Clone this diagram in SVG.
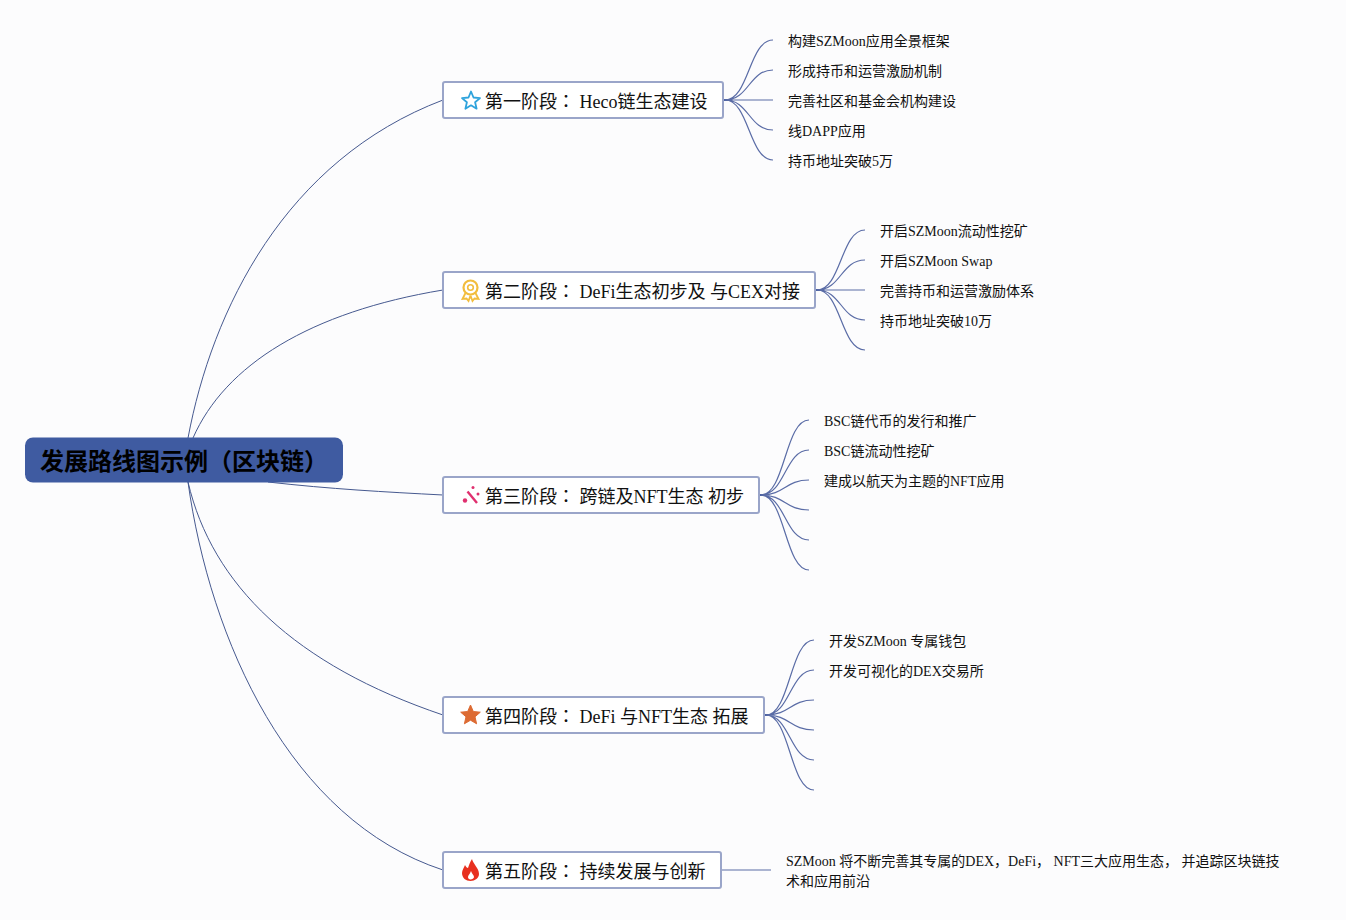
<svg xmlns="http://www.w3.org/2000/svg" width="1346" height="920" viewBox="0 0 1346 920">
<style>
text{font-family:"Liberation Serif","Noto Sans CJK JP",serif;fill:#111}
.leaf{font-size:14px}
.stage{font-size:18px}
.box{fill:#fff;stroke:#9aa5c9;stroke-width:2}
.main{fill:none;stroke:#46598f;stroke-width:1}
.sub{fill:none;stroke:#5a6ca6;stroke-width:1.200}
.stub{fill:none;stroke:#4b62a3;stroke-width:2}
</style>
<rect width="1346" height="920" fill="#fcfcfd"/>
<g id="connectors">
<path class="main" d="M188 438C212 310 285 160 443 100"/>
<path class="main" d="M193 438C225 365 310 312 443 290"/>
<path class="main" d="M268 482C330 489 385 492 443 495"/>
<path class="main" d="M188 482C212 585 295 665 443 715"/>
<path class="main" d="M188 482C210 640 290 820 443 870"/>
<path class="stub" d="M723 100H729"/><path class="stub" d="M815 290H821"/><path class="stub" d="M759 495H765"/><path class="stub" d="M764 715H770"/>
<path class="sub" d="M725 100C749 100 749 40 773 40M725 100C749 100 749 70 773 70M725 100H773M725 100C749 100 749 130 773 130M725 100C749 100 749 160 773 160"/>
<path class="sub" d="M817 290C841 290 841 230 865 230M817 290C841 290 841 260 865 260M817 290H865M817 290C841 290 841 320 865 320M817 290C841 290 841 350 865 350"/>
<path class="sub" d="M761 495C785 495 785 420 809 420M761 495C785 495 785 450 809 450M761 495C785 495 785 480 809 480M761 495C785 495 785 510 809 510M761 495C785 495 785 540 809 540M761 495C785 495 785 570 809 570"/>
<path class="sub" d="M766 715C790 715 790 640 814 640M766 715C790 715 790 670 814 670M766 715C790 715 790 700 814 700M766 715C790 715 790 730 814 730M766 715C790 715 790 760 814 760M766 715C790 715 790 790 814 790"/>
<path class="sub" d="M721 870H771" stroke-width="1.500"/>
</g>
<g id="root">
<rect x="25" y="437.500" width="318" height="45" rx="8" fill="#3f5ba1"/>
<text x="40" y="470" style="font-size:24px;font-weight:bold;fill:#000;font-family:'Liberation Sans','Noto Sans CJK JP',sans-serif">发展路线图示例（区块链）</text>
</g>
<g id="stage1">
<rect class="box" x="443" y="82" width="280" height="36" rx="2"/>
<path d="M471 91.500L473.500 97.500L480 98.100L475.100 102.300L476.600 108.700L471 105.300L465.400 108.700L466.900 102.300L462 98.100L468.500 97.500Z" fill="none" stroke="#2ea3dc" stroke-width="1.800" stroke-linejoin="round"/>
<text class="stage" x="485" y="108">第一阶段： Heco链生态建设</text>
</g>
<g id="stage2">
<rect class="box" x="443" y="272" width="372" height="36" rx="2"/>
<circle cx="470.500" cy="287.500" r="7" fill="none" stroke="#f2bd3d" stroke-width="2.200"/><circle cx="470.500" cy="287.500" r="2.800" fill="none" stroke="#f2bd3d" stroke-width="1.600"/>
<path d="M465.500 293L462.500 299L466.500 298.500L468.500 301L470.500 295.500M475.500 293L478.500 299L474.500 298.500L472.500 301L470.500 295.500" fill="none" stroke="#f2bd3d" stroke-width="1.800"/>
<text class="stage" x="485" y="298">第二阶段： DeFi生态初步及 与CEX对接</text>
</g>
<g id="stage3">
<rect class="box" x="443" y="477" width="316" height="36" rx="2"/>
<path d="M467.500 491.500L477 503" stroke="#e0306f" stroke-width="2.400"/><circle cx="473" cy="487.500" r="1.500" fill="#e0306f"/><circle cx="478" cy="494" r="1.500" fill="#e0306f"/><circle cx="465" cy="500.500" r="2.200" fill="#e0306f"/>
<text class="stage" x="485" y="503">第三阶段： 跨链及NFT生态 初步</text>
</g>
<g id="stage4">
<rect class="box" x="443" y="697" width="321" height="36" rx="2"/>
<path d="M470.500 705L473.300 711.500L480.300 712.200L475 716.800L476.600 723.800L470.500 720.200L464.400 723.800L466 716.800L460.700 712.200L467.700 711.500Z" fill="#dd6b33" stroke="#dd6b33" stroke-linejoin="round"/>
<text class="stage" x="485" y="723">第四阶段： DeFi 与NFT生态 拓展</text>
</g>
<g id="stage5">
<rect class="box" x="443" y="852" width="278" height="36" rx="2"/>
<path fill-rule="evenodd" d="M472 859C473 864 479 868 479 874C479 878 475 881 470.500 881C466 881 462 878 462 873C462 870 464 868 465 865C466 867 467 868 468 868C469 865 470 862 472 859ZM471 871C470 874 468 875 468 877C468 878.500 469 879.500 470.500 879.500C472 879.500 474 878.500 474 877C474 875 472 874 471 871Z" fill="#e8301f"/>
<text class="stage" x="485" y="878">第五阶段： 持续发展与创新</text>
</g>
<g id="leaves1">
<text class="leaf" x="788" y="46">构建SZMoon应用全景框架</text>
<text class="leaf" x="788" y="76">形成持币和运营激励机制</text>
<text class="leaf" x="788" y="106">完善社区和基金会机构建设</text>
<text class="leaf" x="788" y="136">线DAPP应用</text>
<text class="leaf" x="788" y="166">持币地址突破5万</text>
</g>
<g id="leaves2">
<text class="leaf" x="880" y="236">开启SZMoon流动性挖矿</text>
<text class="leaf" x="880" y="266">开启SZMoon Swap</text>
<text class="leaf" x="880" y="296">完善持币和运营激励体系</text>
<text class="leaf" x="880" y="326">持币地址突破10万</text>
</g>
<g id="leaves3">
<text class="leaf" x="824" y="426">BSC链代币的发行和推广</text>
<text class="leaf" x="824" y="456">BSC链流动性挖矿</text>
<text class="leaf" x="824" y="486">建成以航天为主题的NFT应用</text>
</g>
<g id="leaves4">
<text class="leaf" x="829" y="646">开发SZMoon 专属钱包</text>
<text class="leaf" x="829" y="676">开发可视化的DEX交易所</text>
</g>
<g id="leaves5">
<text class="leaf" x="786" y="866">SZMoon 将不断完善其专属的DEX，DeFi， NFT三大应用生态， 并追踪区块链技</text>
<text class="leaf" x="786" y="886">术和应用前沿</text>
</g>
</svg>
